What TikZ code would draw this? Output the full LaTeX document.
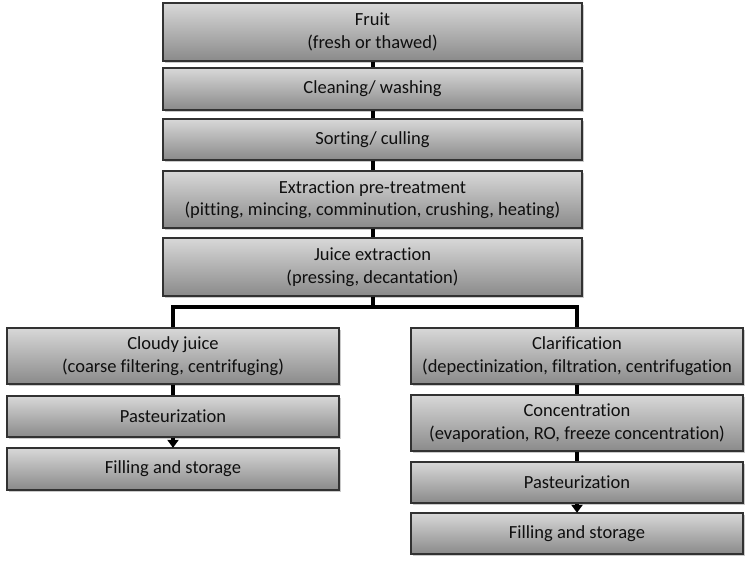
\documentclass[tikz,border=0pt]{standalone}
\usepackage{fontspec}
\setmainfont{Carlito}[Ligatures={NoCommon}]
\usetikzlibrary{arrows.meta,shadows}
\definecolor{boxtop}{RGB}{216,216,216}
\definecolor{boxbot}{RGB}{138,138,138}
\definecolor{boxline}{RGB}{50,50,50}
\definecolor{txt}{RGB}{15,15,15}
\begin{document}
\begin{tikzpicture}[x=1pt,y=-1pt,
  stepbox/.style={draw=boxline, line width=1.3pt, top color=boxtop, bottom color=boxbot,
    inner sep=0pt, align=center, text=txt,
    font=\fontsize{18.5}{22.5}\selectfont,
    drop shadow={shadow xshift=1.8pt, shadow yshift=-1.8pt, opacity=0.35, fill=black!60}},
  link/.style={line width=4pt, black},
  arrowlink/.style={line width=4pt, black, -{Triangle[width=11pt,length=8pt]}, shorten >=-0.5pt}
]
\useasboundingbox (0,0) rectangle (749,561);
% main column: x 163..582
\node[stepbox, minimum width=419pt, minimum height=58pt] (fruit) at (372.5,32) {Fruit\\(fresh or thawed)};
\node[stepbox, minimum width=419pt, minimum height=42pt] (clean) at (372.5,89) {Cleaning/ washing};
\node[stepbox, minimum width=419pt, minimum height=41pt] (sort) at (372.5,139.5) {Sorting/ culling};
\node[stepbox, minimum width=419pt, minimum height=57pt] (pre) at (372.5,199.5) {Extraction pre-treatment\\(pitting, mincing, comminution, crushing, heating)};
\node[stepbox, minimum width=419pt, minimum height=58pt] (juice) at (372.5,267) {Juice extraction\\(pressing, decantation)};
% left column: x 7..339
\node[stepbox, minimum width=332pt, minimum height=56pt] (cloudy) at (173,356) {Cloudy juice\\(coarse filtering, centrifuging)};
\node[stepbox, minimum width=332pt, minimum height=41pt] (pastL) at (173,416.5) {Pasteurization};
\node[stepbox, minimum width=332pt, minimum height=42pt] (fillL) at (173,469) {Filling and storage};
% right column: x 411..743
\node[stepbox, minimum width=332pt, minimum height=56pt] (clar) at (577,356) {Clarification\\(depectinization, filtration, centrifugation};
\node[stepbox, minimum width=332pt, minimum height=56pt] (conc) at (577,423) {Concentration\\(evaporation, RO, freeze concentration)};
\node[stepbox, minimum width=332pt, minimum height=41pt] (pastR) at (577,482.5) {Pasteurization};
\node[stepbox, minimum width=332pt, minimum height=41pt] (fillR) at (577,533.5) {Filling and storage};
% connectors
\coordinate (busL) at (173,307);
\coordinate (busR) at (577,307);
\draw[link] (fruit.south) -- (clean.north);
\draw[link] (clean.south) -- (sort.north);
\draw[link] (sort.south) -- (pre.north);
\draw[link] (pre.south) -- (juice.north);
\draw[link] (juice.south) -- (juice.south |- busL);
\draw[link, line join=miter] (cloudy.north) |- (busR) -- (clar.north);
\draw[link] (cloudy.south) -- (pastL.north);
\draw[arrowlink] (pastL.south) -- (fillL.north);
\draw[link] (clar.south) -- (conc.north);
\draw[link] (conc.south) -- (pastR.north);
\draw[arrowlink] (pastR.south) -- (fillR.north);
\end{tikzpicture}
\end{document}
